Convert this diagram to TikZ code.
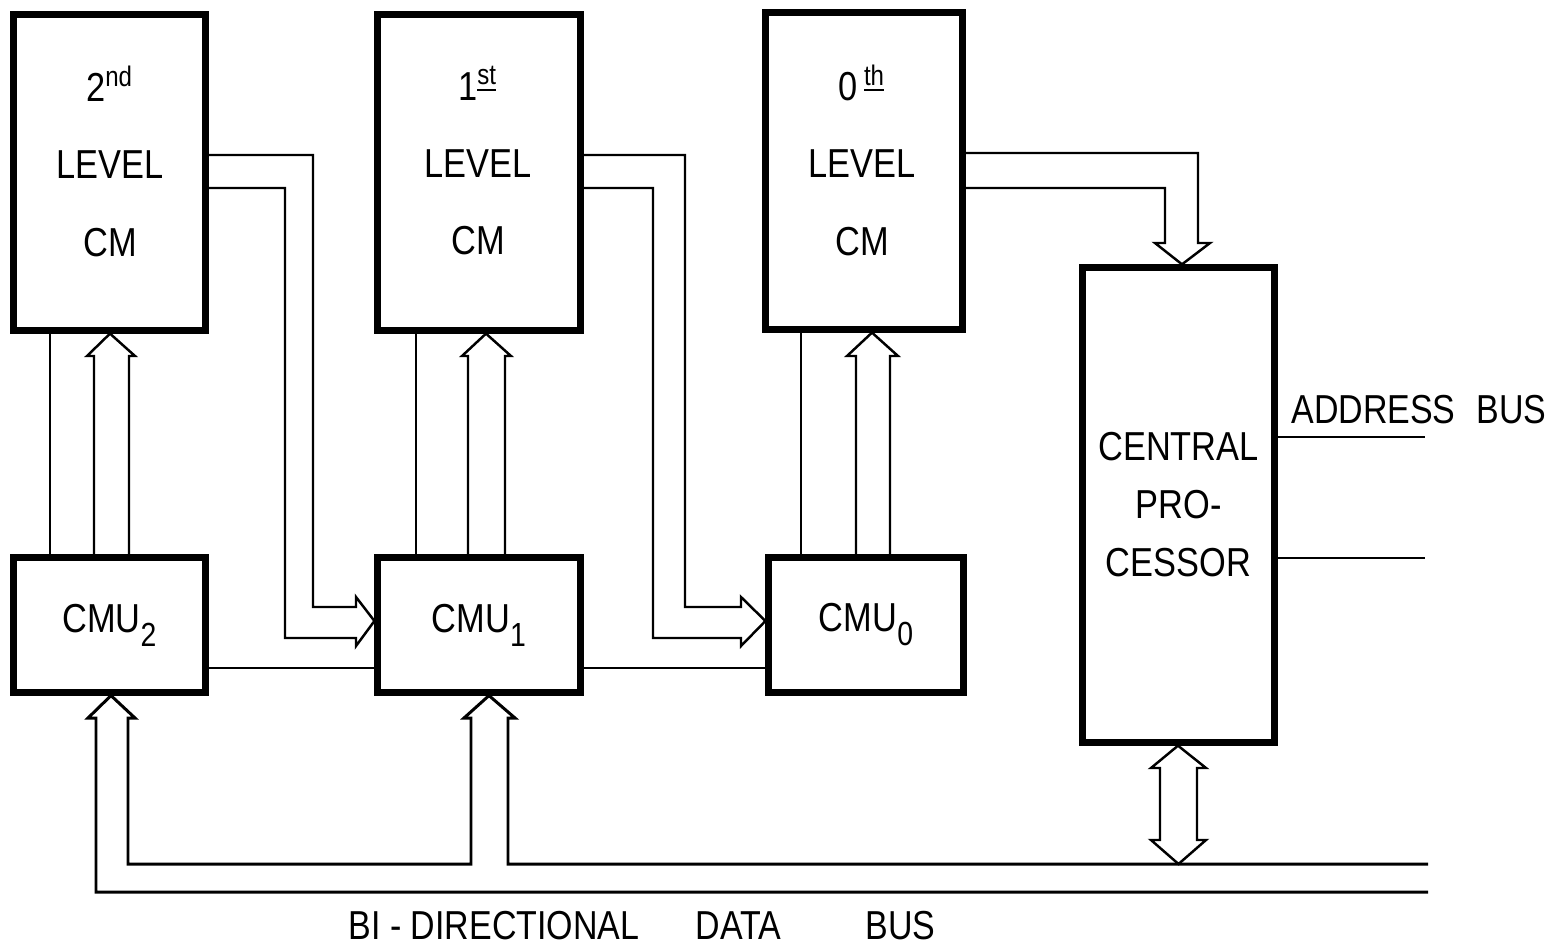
\documentclass[tikz,border=0pt]{standalone}
\usepackage{fontspec}
\setmainfont{Liberation Sans}[FakeStretch=0.85]
\newfontfamily\busfont{Liberation Sans}[FakeStretch=0.84]
\usepackage{tikz}
\usetikzlibrary{calc}
\tikzset{
  unitbox/.style={draw,line width=2pt,inner sep=0pt,align=center,font=\fontsize{11.5}{16.5}\selectfont},
  cmlabel/.style={align=center,inner sep=0pt,font=\fontsize{11.5}{22}\selectfont},
  buslabel/.style={inner sep=0pt,font=\busfont\fontsize{11.5}{14}\selectfont},
  wire/.style={line width=0.7pt},
  bus/.style={line width=0.85pt}
}

\begin{document}
\begin{tikzpicture}[x=0.01cm,y=-0.01cm]
  \useasboundingbox (0,0) rectangle (1557,948);
  \node[unitbox,minimum width=1.91cm,minimum height=3.15cm] (cm2) at (109.5,172.5) {};
  \node[unitbox,minimum width=2.02cm,minimum height=3.15cm] (cm1) at (479,172.5) {};
  \node[unitbox,minimum width=1.96cm,minimum height=3.16cm] (cm0) at (864,171) {};
  \node[cmlabel] (cm2text) at (110,161) {2\textsuperscript{nd}\\LEVEL\\CM};
  \node[cmlabel] (cm1text) at (478,161) {1\textsuperscript{\underline{st}}\\LEVEL\\CM};
  \node[cmlabel] (cm0text) at (862,160) {0\,\textsuperscript{\underline{th}}\\LEVEL\\CM};
  \node[unitbox,minimum width=1.91cm,minimum height=1.34cm] (cmu2) at (109.5,625) {CMU\raisebox{-4pt}{\fontsize{9.5}{10}\selectfont 2}};
  \node[unitbox,minimum width=2.02cm,minimum height=1.34cm] (cmu1) at (479,625) {CMU\raisebox{-4pt}{\fontsize{9.5}{10}\selectfont 1}};
  \node[unitbox,minimum width=1.94cm,minimum height=1.34cm] (cmu0) at (866,625) {CMU\raisebox{-4pt}{\fontsize{9.5}{10}\selectfont 0}};
  \node[unitbox,minimum width=1.92cm,minimum height=4.74cm] (cp) at (1178.5,505) {CENTRAL\\PRO-\\CESSOR};

  \draw[wire] (cm2.south -| 50,0) -- (cmu2.north -| 50,0);
  \draw[wire] (cmu2.north -| 94,0) -- (94,356) -- (87,356) -- (cm2.south -| 110,0) -- (135,356) -- (129,356) -- (cmu2.north -| 129,0);
  \draw[wire] (cm1.south -| 416,0) -- (cmu1.north -| 416,0);
  \draw[wire] (cmu1.north -| 468,0) -- (468,356) -- (462,356) -- (cm1.south -| 486,0) -- (511,356) -- (505,356) -- (cmu1.north -| 505,0);
  \draw[wire] (cm0.south -| 801,0) -- (cmu0.north -| 801,0);
  \draw[wire] (cmu0.north -| 856,0) -- (856,356) -- (847,356) -- (cm0.south -| 872,0) -- (898,356) -- (890,356) -- (cmu0.north -| 890,0);

  \draw[wire] (cm2.east |- 0,155) -| (313,607) -- (356,607) -- (356,597) -- (cmu1.west |- 0,621) -- (356,646) -- (356,638) -| (285,188) -- (cm2.east |- 0,188);
  \draw[wire] (cm1.east |- 0,155) -| (685,607) -- (741,607) -- (741,597) -- (cmu0.west |- 0,621) -- (741,646) -- (741,638) -| (653,188) -- (cm1.east |- 0,188);
  \draw[wire] (cm0.east |- 0,153) -| (1198,243) -- (1210,243) -- (cp.north -| 1182,0) -- (1155,243) -- (1165,243) |- (cm0.east |- 0,188);

  \draw[wire] (cmu2.east |- 0,668) -- (cmu1.west |- 0,668);
  \draw[wire] (cmu1.east |- 0,668) -- (cmu0.west |- 0,668);

  \coordinate (ab1) at (1425,437);
  \coordinate (ab2) at (1425,558);
  \draw[wire] (cp.east |- ab1) -- (ab1);
  \draw[wire] (cp.east |- ab2) -- (ab2);
  \node[buslabel] (abus) at (1419,410) {ADDRESS\hspace{6pt}BUS};

  \coordinate (dbtop) at (1428,864);
  \coordinate (dbbot) at (1428,892);
  \draw[bus] (dbbot) -- (96,892) -- (96,718) -- (88,718) -- (cmu2.south -| 111,0) -- (135,718) -- (128,718) -- (128,864) -- (471,864) -- (471,718) -- (464,718) -- (cmu1.south -| 489,0) -- (515,718) -- (508,718) -- (508,864) -- (dbtop);
  \draw[wire] (cp.south -| 1178,0) -- (1206,768) -- (1197,768) -- (1197,840) -- (1206,840) -- (cp.south |- dbtop) -- (1151,840) -- (1160,840) -- (1160,768) -- (1151,768) -- cycle;
  \node[buslabel] (dblabel) at (642,926) {BI - DIRECTIONAL\hspace{16pt}DATA\hspace{24pt}BUS};
\end{tikzpicture}
\end{document}
